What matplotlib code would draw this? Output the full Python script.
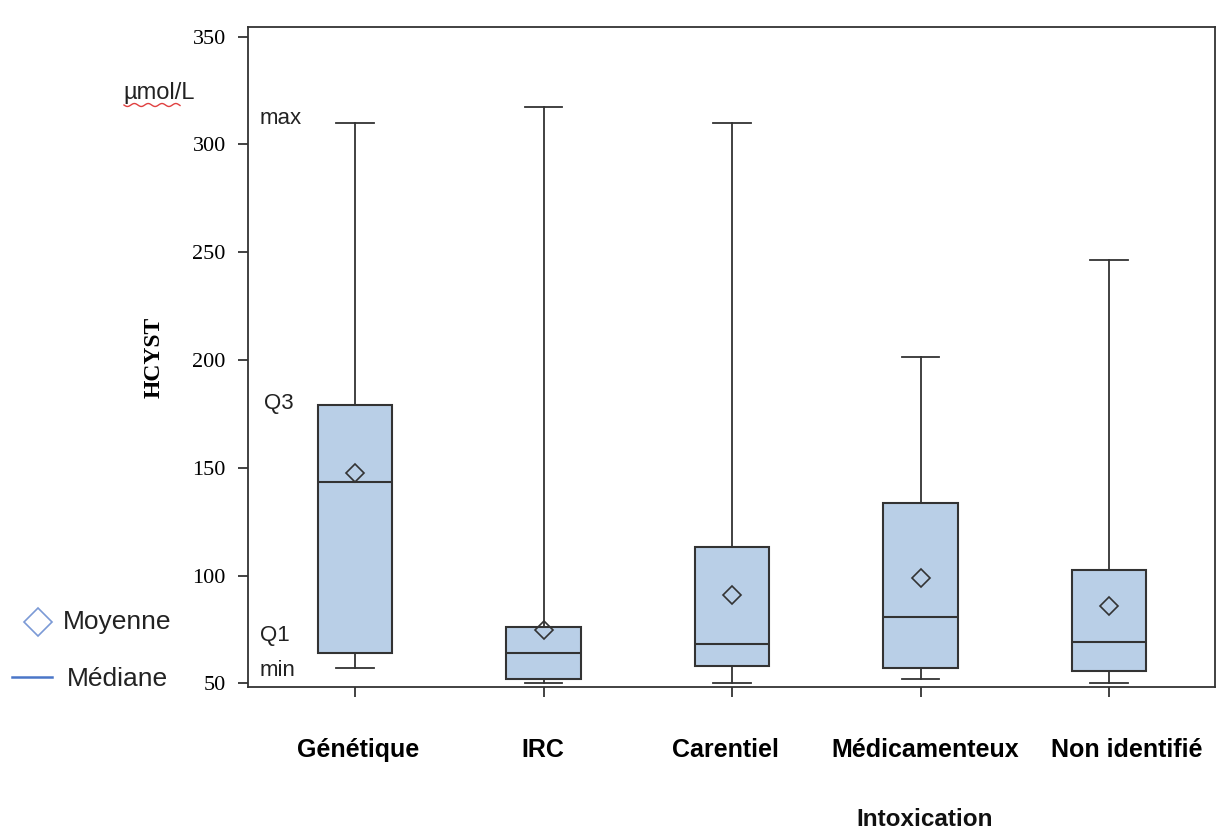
import matplotlib
matplotlib.use("Agg")
import matplotlib.pyplot as plt
import matplotlib.transforms as mtransforms
import numpy as np

categories = ["Génétique", "IRC", "Carentiel", "Médicamenteux", "Non identifié"]
mins    = [57.2, 50.2, 50.2, 52.1, 50.2]
q1s     = [63.9, 52.0, 58.0, 57.2, 55.8]
medians = [143.2, 63.9, 68.3, 80.9, 69.0]
q3s     = [179.1, 76.2, 113.3, 133.5, 102.4]
maxs    = [310.1, 317.4, 310.0, 201.5, 246.4]
means   = [147.4, 74.7, 91.0, 99.1, 85.8]
yticks  = [50, 100, 150, 200, 250, 300, 350]

W, H = 1218, 833
fig = plt.figure(figsize=(W / 100, H / 100), dpi=100)
ax = fig.add_axes([248 / W, 1 - 687 / H, (1215 - 248) / W, (687 - 27) / H])

stats = []
for i, c in enumerate(categories):
    stats.append(dict(label=c, whislo=mins[i], q1=q1s[i], med=medians[i],
                      q3=q3s[i], whishi=maxs[i], mean=means[i], fliers=[]))

edge = "#333333"
positions = np.arange(1, len(categories) + 1)
ax.bxp(stats, positions=positions, widths=0.396, patch_artist=True,
       showmeans=True, showfliers=False,
       boxprops=dict(facecolor="#b9cfe7", edgecolor=edge, linewidth=1.5),
       medianprops=dict(color=edge, linewidth=1.5),
       whiskerprops=dict(color=edge, linewidth=1.3),
       capprops=dict(color=edge, linewidth=1.3),
       capwidths=0.198,
       meanprops=dict(marker="D", markersize=9, markerfacecolor="none",
                      markeredgecolor=edge, markeredgewidth=1.2))

ax.set_xlim(0.432, 5.562)
ax.set_ylim(48.3, 354.5)
ax.set_yticks(yticks)
ax.set_yticklabels([str(t) for t in yticks], fontfamily="Liberation Serif", fontsize=16)
ax.set_xticks(positions)
ax.set_xticklabels(categories, fontfamily="Liberation Sans", fontweight="bold", fontsize=18)
ax.tick_params(axis="y", direction="out", length=7, width=1.3, color=edge, pad=9)
ax.tick_params(axis="x", direction="out", length=7, width=1.3, color=edge, pad=30)
for s in ax.spines.values():
    s.set_color(edge)
    s.set_linewidth(1.3)

# small horizontal offsets of the category labels as in the original
offsets_px = [3, -1, -7, 5, 18]
for lab, dx in zip(ax.get_xticklabels(), offsets_px):
    lab.set_transform(lab.get_transform() +
                      mtransforms.ScaledTranslation(dx / 100, 0, fig.dpi_scale_trans))

ax.set_ylabel("HCYST", fontfamily="Liberation Serif", fontweight="bold", fontsize=17, labelpad=20)

def ft(x, y, s, **kw):
    fig.text(x / W, 1 - y / H, s, **kw)

sans = dict(fontfamily="Liberation Sans", color="#222222")
ft(123, 93, "µmol/L", fontsize=17, va="center", ha="left", **sans)
ft(260, 118, "max", fontsize=16, va="center", ha="left", **sans)
ft(264, 404, "Q3", fontsize=16, va="center", ha="left", **sans)
ft(260, 635, "Q1", fontsize=16, va="center", ha="left", **sans)
ft(260, 670, "min", fontsize=16, va="center", ha="left", **sans)
ft(63, 622, "Moyenne", fontsize=19, va="center", ha="left", **sans)
ft(67, 679, "Médiane", fontsize=19, va="center", ha="left", **sans)
ft(925, 820, "Intoxication", fontsize=17.5, fontweight="bold", va="center", ha="center",
   fontfamily="Liberation Sans", color="#111111")

# legend marks
fig.add_artist(plt.Line2D([38 / W], [1 - 622 / H], marker="D", markersize=14,
                          markerfacecolor="none", markeredgecolor="#7b9ad6",
                          markeredgewidth=1.2, transform=fig.transFigure))
fig.add_artist(plt.Line2D([12 / W, 52 / W], [1 - 677 / H, 1 - 677 / H],
                          color="#4a76c8", linewidth=1.8, transform=fig.transFigure))
# spell-check squiggle under "µmol"
xs = np.linspace(124, 180, 60)
ys = 105 + 1.5 * np.sin((xs - 124) / 2.2)
fig.add_artist(plt.Line2D(xs / W, 1 - ys / H, color="#e04040", linewidth=1.0,
                          transform=fig.transFigure))

fig.savefig("out.png", dpi=100, facecolor="white")
